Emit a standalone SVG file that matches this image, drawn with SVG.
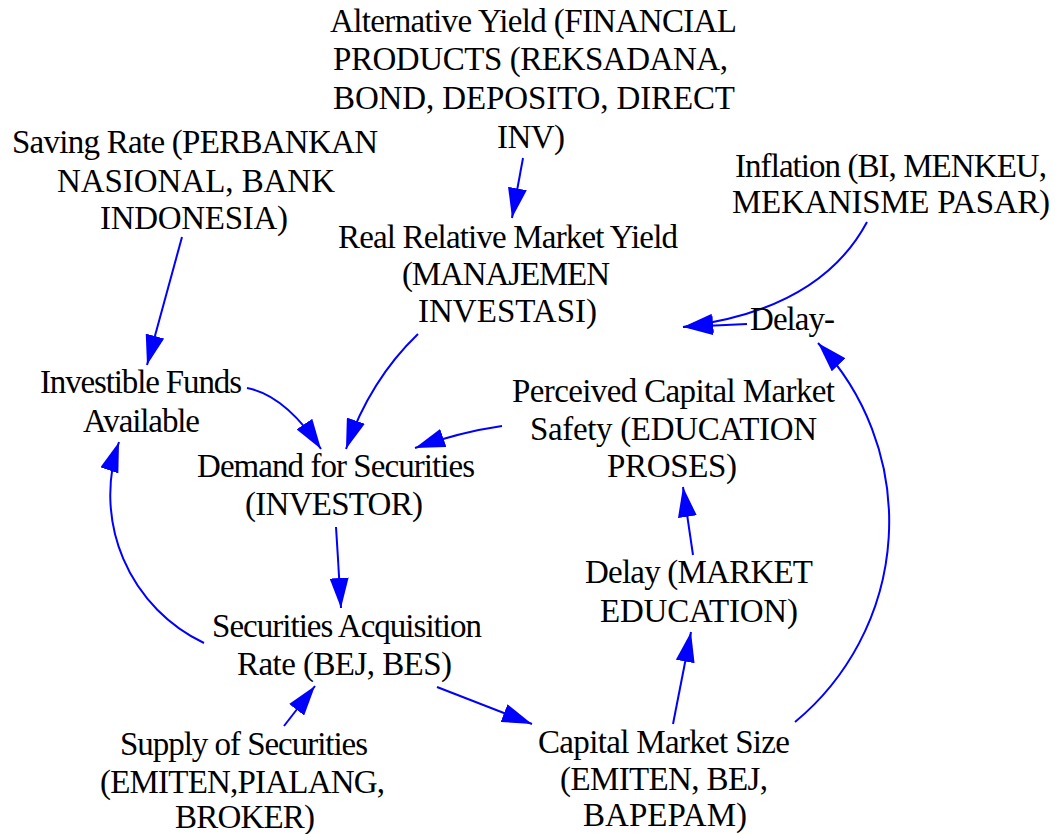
<svg xmlns="http://www.w3.org/2000/svg" width="1055" height="834" viewBox="0 0 1055 834">
  <style>
    .lbl { font-family: "Liberation Serif", "Times New Roman", serif; font-size: 33px; fill: #000; text-anchor: middle; }
    .link { fill: none; stroke: #0000ff; stroke-width: 2; marker-end: url(#head); }
  </style>
  <defs>
    <marker id="head" markerUnits="userSpaceOnUse" viewBox="0 0 30 19" markerWidth="30" markerHeight="19" refX="30" refY="9.5" orient="auto">
      <path d="M0,0 L30,9.5 L0,19 z" fill="#0000ff"/>
    </marker>
  </defs>
  <rect width="1055" height="834" fill="#ffffff"/>

  <!-- connectors -->
  <g id="connectors">
    <path class="link" d="M523,158 L512,218"/>
    <path class="link" d="M182,237 L147,365"/>
    <path class="link" d="M247,388 Q285,395 321,449"/>
    <path class="link" d="M418,334 Q370,380 346,449"/>
    <path class="link" d="M502,426 Q460,432 415,448"/>
    <path class="link" d="M693,555 L683,487"/>
    <path class="link" d="M673,724 L691,632"/>
    <path class="link" d="M795,722 A260,260 0 0 0 818,343"/>
    <path class="link" d="M867,222 Q820,310 683,327"/>
    <path class="link" d="M747,324 L683,327"/>
    <path class="link" d="M204,643 A164,164 0 0 1 119,442"/>
    <path class="link" d="M284,726 L315,686"/>
    <path class="link" d="M437,687 L532,724"/>
    <path class="link" d="M336,527 L341,608"/>
  </g>

  <!-- nodes -->
  <g id="alternative-yield">
    <text class="lbl" x="533.5" y="32" textLength="407" lengthAdjust="spacing">Alternative Yield (FINANCIAL</text>
    <text class="lbl" x="530.5" y="70" textLength="395" lengthAdjust="spacing">PRODUCTS (REKSADANA,</text>
    <text class="lbl" x="534" y="109" textLength="402" lengthAdjust="spacing">BOND, DEPOSITO, DIRECT</text>
    <text class="lbl" x="531" y="148" textLength="68" lengthAdjust="spacing">INV)</text>
  </g>
  <g id="saving-rate">
    <text class="lbl" x="195" y="153" textLength="366" lengthAdjust="spacing">Saving Rate (PERBANKAN</text>
    <text class="lbl" x="196" y="192" textLength="278" lengthAdjust="spacing">NASIONAL, BANK</text>
    <text class="lbl" x="194" y="229" textLength="188" lengthAdjust="spacing">INDONESIA)</text>
  </g>
  <g id="inflation">
    <text class="lbl" x="891" y="177" textLength="312" lengthAdjust="spacing">Inflation (BI, MENKEU,</text>
    <text class="lbl" x="891" y="213" textLength="318" lengthAdjust="spacing">MEKANISME PASAR)</text>
  </g>
  <g id="real-relative-market-yield">
    <text class="lbl" x="508" y="248" textLength="340" lengthAdjust="spacing">Real Relative Market Yield</text>
    <text class="lbl" x="506" y="285" textLength="208" lengthAdjust="spacing">(MANAJEMEN</text>
    <text class="lbl" x="507.5" y="322" textLength="179" lengthAdjust="spacing">INVESTASI)</text>
  </g>
  <g id="delay-inflation">
    <text class="lbl" x="792.5" y="330" textLength="85" lengthAdjust="spacing">Delay-</text>
  </g>
  <g id="investible-funds">
    <text class="lbl" x="141" y="393" textLength="202" lengthAdjust="spacing">Investible Funds</text>
    <text class="lbl" x="141.5" y="432" textLength="117" lengthAdjust="spacing">Available</text>
  </g>
  <g id="perceived-safety">
    <text class="lbl" x="673.5" y="402" textLength="323" lengthAdjust="spacing">Perceived Capital Market</text>
    <text class="lbl" x="673.5" y="440" textLength="287" lengthAdjust="spacing">Safety (EDUCATION</text>
    <text class="lbl" x="672" y="477" textLength="130" lengthAdjust="spacing">PROSES)</text>
  </g>
  <g id="demand-for-securities">
    <text class="lbl" x="336" y="477" textLength="278" lengthAdjust="spacing">Demand for Securities</text>
    <text class="lbl" x="334" y="515" textLength="178" lengthAdjust="spacing">(INVESTOR)</text>
  </g>
  <g id="delay-market-education">
    <text class="lbl" x="699" y="583" textLength="228" lengthAdjust="spacing">Delay (MARKET</text>
    <text class="lbl" x="699" y="622" textLength="198" lengthAdjust="spacing">EDUCATION)</text>
  </g>
  <g id="securities-acquisition-rate">
    <text class="lbl" x="347" y="637" textLength="270" lengthAdjust="spacing">Securities Acquisition</text>
    <text class="lbl" x="344.5" y="675" textLength="215" lengthAdjust="spacing">Rate (BEJ, BES)</text>
  </g>
  <g id="supply-of-securities">
    <text class="lbl" x="244" y="755" textLength="248" lengthAdjust="spacing">Supply of Securities</text>
    <text class="lbl" x="242.5" y="793" textLength="285" lengthAdjust="spacing">(EMITEN,PIALANG,</text>
    <text class="lbl" x="245" y="828" textLength="140" lengthAdjust="spacing">BROKER)</text>
  </g>
  <g id="capital-market-size">
    <text class="lbl" x="664" y="753" textLength="252" lengthAdjust="spacing">Capital Market Size</text>
    <text class="lbl" x="664" y="790" textLength="208" lengthAdjust="spacing">(EMITEN, BEJ,</text>
    <text class="lbl" x="665" y="826" textLength="164" lengthAdjust="spacing">BAPEPAM)</text>
  </g>
</svg>
